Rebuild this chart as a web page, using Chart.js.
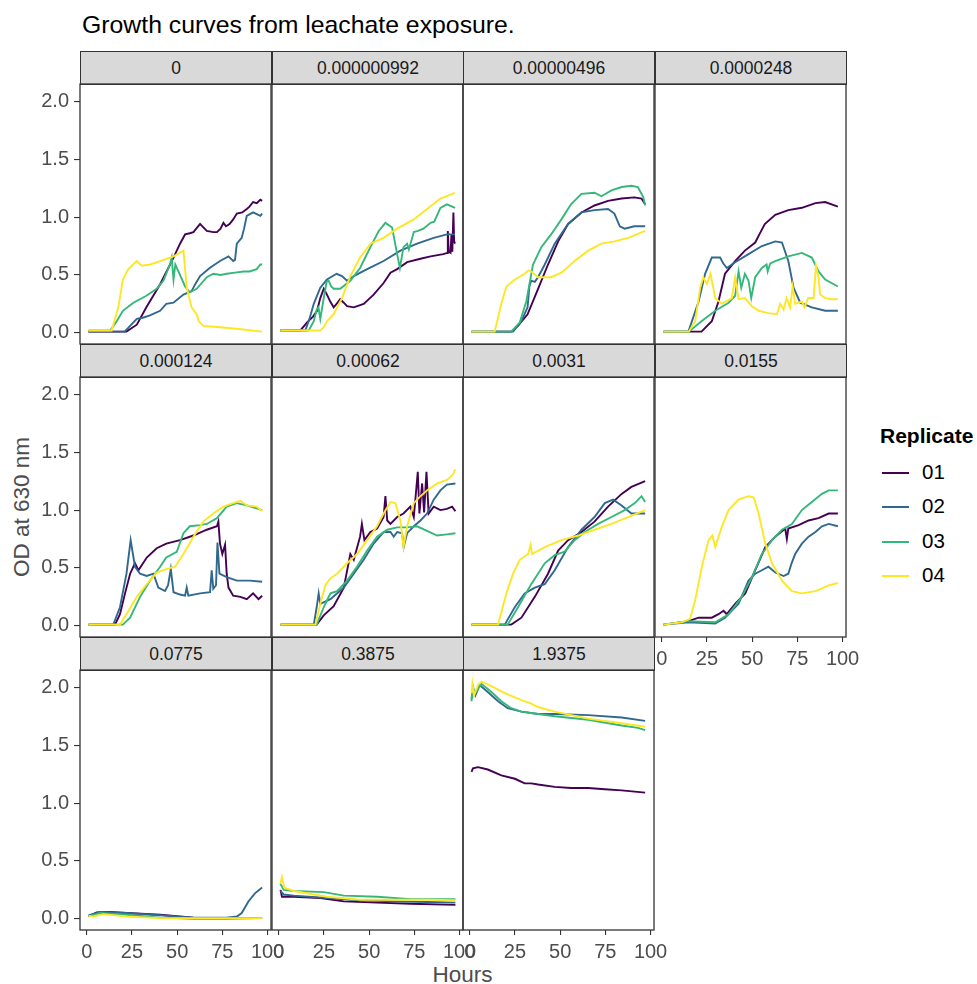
<!DOCTYPE html>
<html>
<head>
<meta charset="utf-8">
<script src="https://cdn.jsdelivr.net/npm/chart.js@4.4.1/dist/chart.umd.min.js"></script>
<style>
body { margin: 0; background: #fff; font-family: "Liberation Sans", Arial, Helvetica, sans-serif; }
#page { position: relative; width: 977px; height: 984px; overflow: hidden; background: #fff; }
canvas { position: absolute; }
.strip { position: absolute; background: #D9D9D9; border: 1px solid #333; box-sizing: border-box;
         text-align: center; color: #1A1A1A; font-size: 17.5px; }
#title { position: absolute; left: 82px; top: 11px; font-size: 24.8px; color: #000; white-space: nowrap; }
#xtitle { position: absolute; left: 0; width: 925px; top: 962px; text-align: center; font-size: 22.5px; color: #4D4D4D; }
#ytitle { position: absolute; left: 22px; top: 507px; font-size: 22.5px; color: #4D4D4D; white-space: nowrap;
          transform: translate(-50%, -50%) rotate(-90deg); }
#legend { position: absolute; left: 880px; top: 424px; }
#legend .lt { font-size: 21px; font-weight: bold; color: #000; }
#legend .it { position: relative; height: 34.3px; }
#legend .sw { position: absolute; left: 2px; top: 14px; width: 27px; height: 2px; }
#legend .lb { position: absolute; left: 42px; top: 2px; font-size: 20.5px; color: #000; }
</style>
</head>
<body>
<div id="page">
  <div id="title">Growth curves from leachate exposure.</div>
  <div id="ytitle">OD at 630 nm</div>
  <div id="xtitle">Hours</div>
  <div id="legend"></div>
</div>
<script>
var concentrations = ['0', '0.000000992', '0.00000496', '0.0000248', '0.000124', '0.00062',
                      '0.0031', '0.0155', '0.0775', '0.3875', '1.9375'];
var replicates = ['01', '02', '03', '04'];
var colours = ['#440154', '#31688E', '#35B779', '#FDE725'];
var hourTicks = [0, 25, 50, 75, 100];
var odTicks = [0, 0.5, 1, 1.5, 2];

// [hours, OD] pairs, one list per replicate
var panel01 = [
  [[1,0.01],[22,0.01],[27.7,0.07],[33,0.22],[40.6,0.42],[48,0.65],[51.6,0.77],[54.4,0.85],[57,0.86],[59,0.87],[62.7,0.94],[64,0.92],[66.4,0.88],[70,0.87],[72,0.87],[74,0.9],[75.6,0.95],[77,0.92],[79,0.94],[81,0.98],[83,1.03],[86,1.04],[88.5,1.07],[90,1.09],[92,1.13],[94,1.12],[96,1.15],[97,1.14]],
  [[1,0.01],[21,0.01],[24,0.06],[27.7,0.12],[31,0.13],[35,0.15],[40.6,0.19],[44,0.25],[48,0.26],[53.5,0.33],[58,0.36],[60,0.42],[62.7,0.49],[68,0.56],[73.7,0.62],[78.4,0.66],[81,0.62],[82,0.63],[83,0.77],[85.7,0.82],[87,0.9],[88.5,1.01],[92,1.04],[96,1.01],[97,1.03]],
  [[1,0.02],[13,0.02],[16.6,0.1],[20,0.19],[25.8,0.26],[33,0.32],[38.7,0.38],[42.4,0.45],[46,0.59],[47,0.65],[48,0.46],[49,0.59],[50.7,0.53],[54.4,0.4],[57,0.35],[60.8,0.38],[66.4,0.48],[70,0.51],[74,0.5],[77.4,0.51],[82,0.52],[86.7,0.53],[90,0.53],[94,0.55],[96,0.59],[97,0.59]],
  [[1,0.02],[13.8,0.02],[17.5,0.22],[20,0.46],[23,0.55],[27.7,0.62],[30.4,0.58],[35,0.59],[40.6,0.62],[48,0.66],[53.5,0.71],[55.3,0.39],[58,0.22],[60.8,0.16],[62,0.1],[64.5,0.06],[72,0.05],[83,0.035],[97,0.01]]
];
var panel02 = [
  [[1,0.02],[12,0.02],[15.7,0.09],[19,0.14],[21.2,0.19],[23,0.3],[24.9,0.38],[26.7,0.33],[28.5,0.27],[30.4,0.22],[32,0.25],[34,0.29],[36,0.26],[37.8,0.23],[41.5,0.22],[47,0.25],[52.5,0.33],[58,0.43],[61.8,0.52],[65.5,0.55],[71,0.61],[78.4,0.64],[84,0.66],[91,0.68],[93.2,0.69],[93.5,0.88],[94,0.7],[95,0.69],[95.5,0.85],[96,0.7],[96.6,1.04],[97,0.79],[97.5,0.77]],
  [[1,0.02],[14.7,0.02],[17,0.12],[19.4,0.25],[23,0.39],[26.7,0.46],[32,0.51],[35,0.49],[37.8,0.45],[41.5,0.49],[48.9,0.55],[58,0.62],[67.3,0.71],[76.5,0.77],[85.7,0.82],[93,0.85],[97.5,0.85]],
  [[1,0.02],[16.6,0.02],[19.4,0.1],[21,0.2],[22,0.22],[23,0.12],[24.9,0.3],[26.5,0.44],[27.6,0.45],[29,0.4],[30.4,0.38],[34,0.38],[39.6,0.45],[45,0.56],[50.7,0.74],[55.3,0.88],[59,0.95],[62.7,0.91],[65.5,0.68],[67,0.56],[69,0.74],[71,0.77],[72,0.72],[74.7,0.87],[77,0.88],[80,0.9],[84,0.95],[86,0.96],[89.4,1.08],[93,1.11],[97.5,1.08]],
  [[1,0.02],[23,0.02],[25,0.05],[26.7,0.1],[30.4,0.16],[35,0.3],[39.6,0.49],[45,0.65],[50.7,0.77],[58,0.82],[65.5,0.9],[74.7,0.98],[82,1.07],[89.4,1.16],[97.5,1.21]]
];
var panel03 = [
  [[1,0.01],[23,0.01],[26.7,0.06],[32,0.16],[37.8,0.38],[43.3,0.59],[48.9,0.79],[54.4,0.94],[61.8,1.04],[69,1.1],[76.5,1.14],[84,1.16],[91,1.17],[95,1.16],[97,1.11]],
  [[1,0.01],[24,0.01],[28.6,0.1],[32,0.22],[33,0.4],[34,0.45],[36,0.44],[37.8,0.48],[41.5,0.59],[47,0.77],[54.4,0.94],[61.8,1.04],[69,1.06],[76.5,1.07],[80,1.03],[83,0.92],[85.7,0.9],[91,0.92],[97,0.92]],
  [[1,0.01],[23,0.01],[27.7,0.09],[31.3,0.27],[35,0.59],[39.6,0.74],[45,0.85],[50.7,0.98],[56,1.11],[61.8,1.2],[69,1.21],[72.8,1.18],[78.4,1.23],[84,1.26],[89.4,1.27],[93,1.26],[96,1.17],[97,1.1]],
  [[1,0.01],[13.8,0.01],[17.5,0.25],[20.3,0.4],[25,0.46],[30.4,0.51],[32.5,0.54],[34,0.53],[37.8,0.48],[45,0.48],[50.7,0.52],[58,0.62],[65.5,0.71],[72.8,0.77],[80,0.79],[87.6,0.82],[97,0.88]]
];
var panel04 = [
  [[1,0.01],[22,0.01],[27.7,0.1],[31.4,0.27],[35,0.51],[40.6,0.62],[46,0.71],[51.7,0.78],[54,0.85],[57,0.94],[62.8,1.02],[70,1.06],[77.5,1.08],[85,1.12],[90.4,1.13],[97.4,1.09]],
  [[1,0.01],[14.8,0.01],[20.4,0.27],[24,0.51],[27.7,0.65],[32.3,0.65],[34,0.6],[36,0.56],[40.6,0.61],[48,0.68],[55.4,0.75],[62.8,0.79],[66.5,0.78],[70,0.62],[72.9,0.39],[76.6,0.26],[83,0.22],[90.4,0.19],[97.4,0.19]],
  [[1,0.01],[15,0.01],[22,0.1],[29.6,0.19],[37,0.26],[40.6,0.32],[42.5,0.53],[44,0.39],[46,0.51],[48,0.45],[49.5,0.3],[51.7,0.48],[55.4,0.56],[58,0.59],[58.6,0.53],[60,0.6],[62.8,0.62],[70,0.66],[77.5,0.69],[83,0.65],[86.7,0.53],[90.4,0.46],[97.4,0.4]],
  [[1,0.01],[15,0.01],[18.5,0.1],[21.3,0.39],[23,0.48],[25,0.42],[27,0.51],[29.6,0.3],[33.3,0.25],[38.8,0.3],[40.6,0.48],[42.5,0.29],[46,0.3],[49.9,0.23],[53.6,0.19],[59,0.17],[63.7,0.16],[65.5,0.25],[67.4,0.2],[69,0.3],[71,0.22],[72.4,0.4],[73.8,0.25],[77.5,0.27],[79,0.22],[81,0.3],[84,0.3],[85.3,0.58],[86.7,0.48],[87.6,0.33],[90.4,0.3],[94,0.29],[97.4,0.29]]
];
var panel05 = [
  [[1,0.01],[15.7,0.01],[18.4,0.1],[21.2,0.28],[24,0.45],[26.7,0.54],[28.6,0.48],[33.2,0.59],[38.7,0.67],[44,0.71],[51.6,0.74],[59,0.78],[66.4,0.83],[72,0.86],[72.8,0.9],[73.7,0.71],[75,0.62],[76.5,0.7],[77.4,0.45],[78.4,0.33],[81,0.26],[85,0.25],[88.5,0.23],[92,0.28],[95,0.23],[97,0.26]],
  [[1,0.01],[14.7,0.01],[18.4,0.16],[22,0.45],[24.3,0.74],[26.7,0.51],[29.5,0.45],[33.2,0.43],[36.9,0.45],[39.6,0.33],[43.3,0.3],[45,0.35],[46.5,0.49],[48,0.29],[51.6,0.27],[54.4,0.26],[55.3,0.33],[56.2,0.26],[62.7,0.28],[68.2,0.29],[69.1,0.48],[70,0.32],[71.5,0.35],[72.3,0.72],[73.4,0.45],[77.4,0.42],[83,0.39],[90.3,0.39],[97,0.38]],
  [[1,0.01],[20,0.01],[24,0.07],[29.5,0.25],[35,0.39],[40.6,0.51],[44,0.59],[49.8,0.64],[53.5,0.8],[57,0.86],[62.7,0.87],[66.4,0.88],[72,0.93],[77.4,1.03],[83,1.06],[88.5,1.04],[97,1]],
  [[1,0.01],[18.4,0.01],[22,0.1],[27.7,0.25],[33.2,0.36],[38.7,0.46],[44,0.49],[48.9,0.51],[53.5,0.62],[59,0.77],[64.5,0.9],[70,0.97],[75.6,1.03],[81,1.06],[85,1.08],[88.5,1.04],[94,1.03],[97,0.99]]
];
var panel06 = [
  [[1,0.01],[21,0.01],[24.9,0.09],[30.4,0.17],[36,0.33],[39.6,0.62],[41.5,0.57],[45,0.77],[46,0.88],[47.4,0.74],[50.7,0.81],[54.4,0.84],[58,0.94],[59,1.12],[60,0.91],[61.8,0.88],[65.5,0.94],[69,0.97],[72.8,1.03],[74.7,0.94],[76.9,1.33],[77.8,0.97],[79.3,1.23],[80.4,0.98],[81.7,1.33],[82.9,0.97],[85.7,1.03],[89.4,1],[93,1.01],[95.9,1.03],[97.7,0.99]],
  [[1,0.01],[19.4,0.01],[21,0.16],[22.1,0.28],[23,0.19],[28.6,0.23],[36,0.33],[41.5,0.45],[47,0.57],[52.5,0.71],[58,0.81],[61.8,0.81],[63.6,0.77],[65.5,0.81],[68.2,0.8],[69.1,0.68],[71,0.8],[74.7,0.86],[78.4,0.91],[82,0.97],[85.7,1.09],[89.4,1.17],[93,1.22],[97.7,1.23]],
  [[1,0.01],[21,0.01],[24.9,0.16],[28.6,0.28],[32.3,0.3],[37.8,0.39],[43.3,0.51],[48.9,0.65],[54.4,0.77],[60,0.83],[65.5,0.85],[71,0.85],[76.5,0.86],[82,0.82],[87.6,0.78],[93,0.79],[97.7,0.8]],
  [[1,0.01],[20.3,0.01],[23,0.19],[25.8,0.35],[28.6,0.41],[32.3,0.45],[37.8,0.54],[43.3,0.62],[48.9,0.74],[54.4,0.86],[58,0.97],[61.8,1.07],[64.5,1.06],[67.3,0.91],[69,0.68],[71,0.86],[74.7,1.06],[78.4,1.12],[82,1.17],[87.6,1.23],[93,1.26],[96,1.3],[97.7,1.35]]
];
var panel07 = [
  [[1,0.01],[23,0.01],[28.6,0.07],[36,0.25],[43.3,0.45],[48.9,0.65],[54.4,0.74],[61.8,0.81],[69,0.9],[76.5,1.03],[84,1.14],[89.4,1.2],[97,1.25]],
  [[1,0.01],[19.4,0.01],[24.9,0.16],[30.4,0.28],[36,0.33],[41.5,0.36],[47,0.48],[54.4,0.68],[61.8,0.83],[69,0.94],[74.7,1.06],[79.3,1.09],[84,1.04],[89.4,0.97],[97,0.97]],
  [[1,0.01],[21,0.01],[26.7,0.16],[34,0.36],[41.5,0.54],[47,0.61],[52.5,0.64],[58,0.74],[63.6,0.81],[71,0.88],[78.4,0.94],[85.7,1],[91.3,1.06],[95,1.12],[97,1.07]],
  [[1,0.01],[15.7,0.01],[20.3,0.28],[24,0.45],[27.7,0.57],[32.3,0.62],[33.7,0.7],[34.5,0.62],[41.5,0.68],[50.7,0.74],[60,0.78],[69,0.83],[78.4,0.88],[87.6,0.94],[97,1]]
];
var panel08 = [
  [[1,0.01],[14.8,0.04],[20.4,0.07],[27.7,0.07],[31.4,0.1],[34.2,0.13],[36,0.1],[40.6,0.19],[46.2,0.28],[51.7,0.48],[57.3,0.68],[62.8,0.77],[68.3,0.84],[69.2,0.75],[70,0.84],[75.7,0.87],[81.2,0.91],[86.7,0.93],[92.3,0.97],[97.4,0.97]],
  [[1,0.01],[14.8,0.03],[29.6,0.02],[35,0.07],[42.5,0.19],[48,0.39],[51.7,0.45],[55.4,0.48],[59,0.51],[62.8,0.46],[67.4,0.43],[70,0.45],[71.8,0.54],[73.8,0.62],[77.5,0.71],[81.2,0.77],[85,0.81],[88.6,0.86],[92.3,0.88],[97.4,0.86]],
  [[1,0.01],[14.8,0.04],[29.6,0.03],[37,0.1],[44.3,0.25],[49.9,0.42],[55.4,0.62],[61,0.74],[66.5,0.83],[72,0.88],[77.5,1],[83,1.07],[88.6,1.14],[92.3,1.17],[97.4,1.17]],
  [[1,0.01],[11,0.03],[15.7,0.06],[18.5,0.22],[22.2,0.51],[25.9,0.74],[28,0.78],[29.6,0.68],[33.3,0.86],[37,1],[42.5,1.09],[48,1.12],[50.8,1.11],[53.6,0.97],[57.3,0.71],[61,0.54],[66.5,0.39],[72,0.3],[77.5,0.28],[85,0.3],[92.3,0.35],[97.4,0.37]]
];
var panel09 = [
  [[1,0.02],[5.5,0.055],[13,0.06],[22,0.05],[40.6,0.035],[59,0.01],[77.4,0.006],[97,0.006]],
  [[1,0.03],[7.4,0.06],[22,0.05],[40.6,0.03],[59,0.01],[77.4,0.01],[83,0.02],[85.7,0.05],[89.4,0.15],[93,0.22],[97,0.27]],
  [[1,0.02],[7.4,0.05],[22,0.035],[40.6,0.01],[59,0],[77.4,0],[97,0.006]],
  [[1,0.025],[3.7,0.02],[9.2,0.04],[22,0.02],[40.6,0.006],[59,0.006],[97,0.006]]
];
var panel10 = [
  [[1,0.25],[1.8,0.19],[8.3,0.19],[23,0.18],[36,0.15],[54.4,0.14],[72.8,0.13],[97.7,0.12]],
  [[1,0.24],[2.8,0.21],[8.3,0.2],[26.7,0.18],[45,0.16],[63.6,0.15],[82,0.145],[97.7,0.14]],
  [[1,0.3],[2.8,0.25],[8.3,0.24],[25,0.23],[36,0.2],[54.4,0.19],[72.8,0.17],[97.7,0.17]],
  [[1,0.3],[1.8,0.36],[3.1,0.27],[8.3,0.24],[26.7,0.19],[45,0.165],[63.6,0.165],[82,0.165],[97.7,0.16]]
];
var panel11 = [
  [[1,1.27],[1.8,1.3],[4.6,1.31],[10,1.29],[17.5,1.24],[25,1.21],[30.4,1.17],[34,1.17],[37.8,1.16],[47,1.14],[56,1.13],[65.5,1.13],[74.7,1.12],[84,1.11],[97,1.09]],
  [[1,1.9],[1.8,1.98],[3.1,1.93],[5.5,2.02],[10,1.96],[15.7,1.88],[21,1.82],[28.6,1.79],[37.8,1.77],[47,1.77],[65.5,1.76],[84,1.74],[97,1.71]],
  [[1,1.88],[1.8,2.01],[2.8,1.95],[6.5,2.03],[12,1.96],[17.5,1.88],[23,1.82],[28.6,1.79],[37.8,1.77],[47,1.75],[65.5,1.72],[84,1.67],[93,1.65],[97,1.63]],
  [[1,1.95],[1.5,2.03],[2.4,1.93],[4.6,2.02],[6.5,2.05],[12,2.01],[19.4,1.95],[28.6,1.89],[34,1.86],[37.8,1.83],[47,1.79],[65.5,1.73],[84,1.69],[97,1.66]]
];
var panels = [panel01, panel02, panel03, panel04, panel05, panel06, panel07, panel08, panel09, panel10, panel11];

// facet layout
var colLeft = [80, 272, 463, 655];
var colWidth = 191;
var stripTop = [51, 344, 637];
var stripH = 33;
var plotH = 260;
var yAxisW = 80, xAxisH = 45;
var pad = 22, padR = 30;
var fontFamily = '"Liberation Sans", Arial, Helvetica, sans-serif';

var frame = {
    id: 'frame',
    afterDraw: function(chart) {
        var a = chart.chartArea, c = chart.ctx;
        c.save();
        c.strokeStyle = '#333333';
        c.lineWidth = 1.3;
        c.strokeRect(a.left, a.top, a.right - a.left, a.bottom - a.top);
        c.restore();
    }
};

var page = document.getElementById('page');

function makePanel(i) {
    var row = Math.floor(i / 4), col = i % 4;
    var showY = col === 0;
    var showX = row === 2 || (row === 1 && col === 3);
    var left = colLeft[col], top = stripTop[row] + stripH;

    var strip = document.createElement('div');
    strip.className = 'strip';
    strip.style.left = left + 'px';
    strip.style.top = stripTop[row] + 'px';
    strip.style.width = (colWidth + 1) + 'px';
    strip.style.height = (stripH + 1) + 'px';
    strip.style.lineHeight = (stripH - 1) + 'px';
    strip.textContent = concentrations[i];
    page.appendChild(strip);

    var lw = showY ? yAxisW : pad;
    var bh = showX ? xAxisH : pad;
    var canvas = document.createElement('canvas');
    canvas.width = lw + colWidth + padR;
    canvas.height = pad + plotH + bh;
    canvas.style.left = (left - lw) + 'px';
    canvas.style.top = (top - pad) + 'px';
    page.appendChild(canvas);

    var datasets = [];
    for (var r = replicates.length - 1; r >= 0; r--) {
        datasets.push({
            label: replicates[r],
            data: panels[i][r],
            borderColor: colours[r],
            backgroundColor: colours[r],
            borderWidth: 1.9,
            pointRadius: 0,
            tension: 0,
            fill: false
        });
    }

    var tickFont = { family: fontFamily, size: 20 };
    new Chart(canvas, {
        type: 'line',
        data: { datasets: datasets },
        options: {
            responsive: false,
            animation: false,
            events: [],
            layout: { padding: { left: showY ? 0 : pad, right: padR, top: pad, bottom: showX ? 0 : pad } },
            plugins: { legend: { display: false }, tooltip: { enabled: false } },
            scales: {
                x: {
                    type: 'linear',
                    min: -3.7,
                    max: 101.9,
                    display: showX,
                    afterBuildTicks: function(s) { s.ticks = hourTicks.map(function(v) { return { value: v }; }); },
                    afterFit: function(s) { if (showX) s.height = xAxisH; },
                    border: { display: false },
                    grid: { drawOnChartArea: false, drawTicks: true, tickLength: 5, color: '#333333', lineWidth: 1.1 },
                    ticks: { autoSkip: false, maxRotation: 0, padding: 5, color: '#4D4D4D', font: tickFont,
                             callback: function(v) { return String(v); } }
                },
                y: {
                    type: 'linear',
                    min: -0.097,
                    max: 2.15,
                    display: showY,
                    afterBuildTicks: function(s) { s.ticks = odTicks.map(function(v) { return { value: v }; }); },
                    afterFit: function(s) { if (showY) s.width = yAxisW; },
                    border: { display: false },
                    grid: { drawOnChartArea: false, drawTicks: true, tickLength: 6, color: '#333333', lineWidth: 1.1 },
                    ticks: { padding: 5, color: '#4D4D4D', font: tickFont,
                             callback: function(v) { return v.toFixed(1); } }
                }
            }
        },
        plugins: [frame]
    });
}

for (var i = 0; i < panels.length; i++) makePanel(i);

// legend
var legend = document.getElementById('legend');
var html = '<div class="lt">Replicate</div><div style="height:10px"></div>';
for (var r = 0; r < replicates.length; r++) {
    html += '<div class="it"><div class="sw" style="background:' + colours[r] + '"></div>' +
            '<div class="lb">' + replicates[r] + '</div></div>';
}
legend.innerHTML = html;
</script>
</body>
</html>
